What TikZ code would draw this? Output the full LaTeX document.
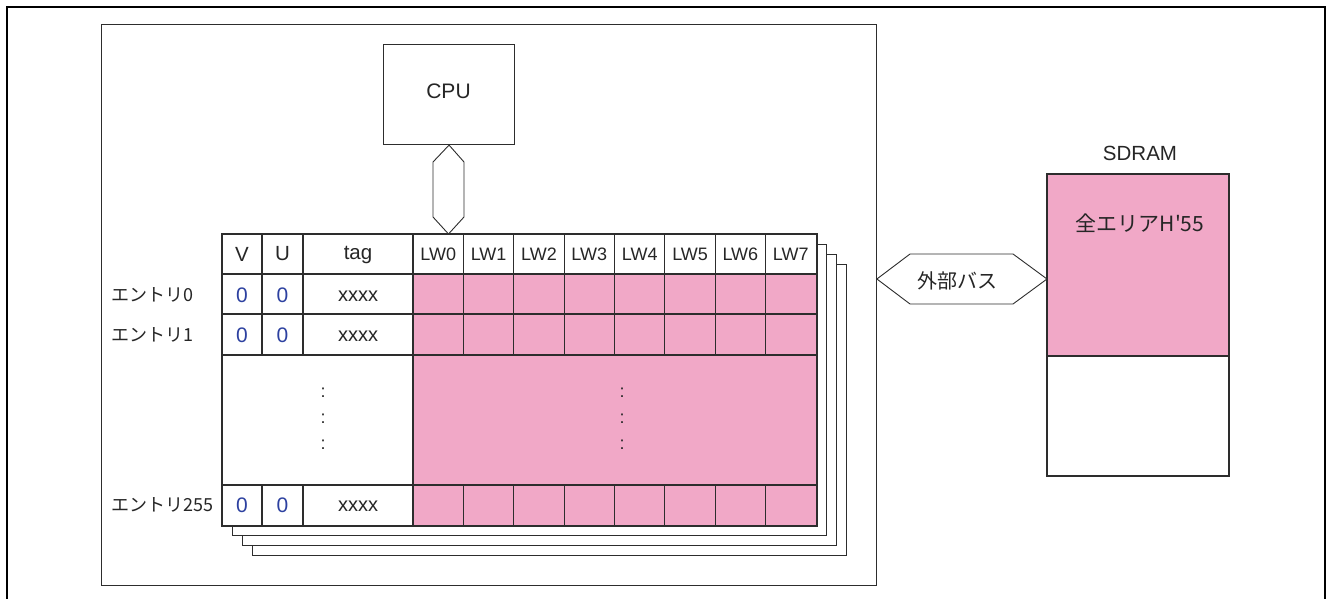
\documentclass[tikz,border=0pt]{standalone}
\usepackage{fontspec}
\setmainfont{Liberation Sans}
\newfontfamily\jp{Noto Sans CJK JP}
\definecolor{cellpink}{RGB}{241,168,199}
\definecolor{zeroblue}{RGB}{45,65,160}
\definecolor{linec}{RGB}{45,45,45}
\tikzset{
  ln/.style={draw=linec, line width=1.1pt},
  thin ln/.style={draw=linec, line width=0.9pt},
  lbl/.style={inner sep=0pt, text=black!85},
  hdr/.style={lbl, font=\fontsize{20.5}{20.5}\selectfont},
  lwhdr/.style={lbl, font=\fontsize{18}{18}\selectfont},
  zero/.style={lbl, text=zeroblue, font=\fontsize{21}{21}\selectfont},
  tagv/.style={lbl, font=\fontsize{20}{20}\selectfont},
  entry/.style={lbl, anchor=west, font=\jp\fontsize{18}{18}\selectfont},
  dotl/.style={lbl, font=\fontsize{18}{18}\selectfont},
  boxnode/.style={ln, fill=white, inner sep=0pt, anchor=north west},
}
\begin{document}
\begin{tikzpicture}[x=1pt,y=-1pt]
\useasboundingbox (0,0) rectangle (1327,599);
% outer frame
\draw[draw=black, line width=2.2pt] (7,606) -- (7,7) -- (1325,7) -- (1325,606);
% chip frame
\node[thin ln, inner sep=0pt, anchor=north west, minimum width=775pt, minimum height=561pt] (chip) at (101,24) {};
% CPU
\node[boxnode, minimum width=131pt, minimum height=100pt] (cpu) at (383,44) {};
\node[lbl, font=\fontsize{21}{21}\selectfont] (cpulbl) at (448.5,91) {CPU};
% stacked ways behind
\foreach \k in {3,2,1}{
  \node[boxnode, minimum width=594pt, minimum height=291pt] (way\k) at (222+10*\k,234+10*\k) {};
}
% front table
\node[boxnode, minimum width=594pt, minimum height=291pt] (tbl) at (222,234) {};
\fill[cellpink] (413,274) rectangle (816,525);
% horizontal lines
\foreach \yy in {274,314,355,485}{
  \draw[ln] (222,\yy) -- (816,\yy);
}
\draw[ln] (tbl.north west) rectangle (tbl.south east);
% vertical lines
\draw[ln] (413,234) -- (413,525);
\foreach \xx in {262,303,463.4,513.8,564.1,614.5,664.9,715.3,765.6}{
  \draw[ln] (\xx,234) -- (\xx,355);
  \draw[ln] (\xx,485) -- (\xx,525);
}
% header texts
\node[hdr] (hV) at (242,254) {V};
\node[hdr] (hU) at (282.5,254) {U};
\node[hdr] (htag) at (358,255) {tag};
\foreach \i/\xx in {0/438.2,1/488.6,2/539,3/589.3,4/639.7,5/690.1,6/740.4,7/790.8}{
  \node[lwhdr] (hlw\i) at (\xx,254.5) {LW\i};
}
% rows
\foreach \r/\yy in {0/295,1/335,255/505}{
  \node[zero] (v\r) at (242,\yy) {0};
  \node[zero] (u\r) at (282.5,\yy) {0};
  \node[tagv] (t\r) at (358,\yy+1) {xxxx};
  \node[entry] (e\r) at (111,\yy) {エントリ\r};
}
% dots
\foreach \n/\yy in {a/393,b/419,c/445}{
  \node[dotl] (dl\n) at (323,\yy) {:};
  \node[dotl] (dr\n) at (622,\yy) {:};
}
% CPU bus
\draw[thin ln, fill=white] (cpu.south) -- (433,162) -- (433,217) -- (448.5,234) -- (464,217) -- (464,162) -- cycle;
% SDRAM
\node[boxnode, minimum width=181pt, minimum height=301pt] (sdram) at (1047,174) {};
\fill[cellpink] (1047,174) rectangle (1228,356);
\draw[ln] (sdram.north west) rectangle (sdram.south east);
\draw[ln] (1047,356) -- (1228,356);
\node[lbl, font=\fontsize{20.5}{20.5}\selectfont] (sdlbl) at (1140,153) {SDRAM};
\node[lbl, font=\jp\fontsize{21}{21}\selectfont] (area) at (1140,223) {全エリアH\textquotesingle 55};
% external bus
\coordinate (ebl) at (chip.east |- 0,279);
\coordinate (ebr) at (sdram.west |- 0,279);
\draw[thin ln, fill=white] (ebl) -- (910,254) -- (1013,254) -- (ebr) -- (1013,304) -- (910,304) -- cycle;
\node[lbl, font=\jp\fontsize{20}{20}\selectfont] (ebus) at (957,281) {外部バス};
\end{tikzpicture}
\end{document}
